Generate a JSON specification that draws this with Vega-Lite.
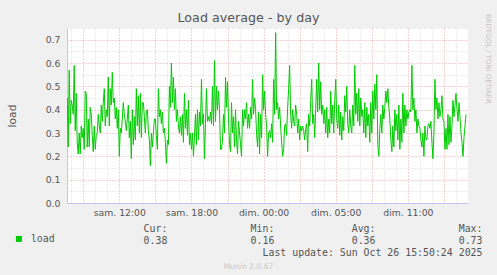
{
"$schema": "https://vega.github.io/schema/vega-lite/v6.json",
"width": 401, "height": 175,
"autosize": "none",
"padding": {"left": 67, "top": 28, "right": 29, "bottom": 72},
"background": "#f0f0f0",
"view": {"fill": "#ffffff", "stroke": null},
"title": {"text": "Load average - by day", "font": "DejaVu Sans", "fontSize": 12.7, "fontWeight": "normal", "color": "#555555", "anchor": "middle", "frame": "bounds", "baseline": "alphabetic", "offset": -21},
"data": {"values": [
{"t":455,"load":0.30},{"t":460,"load":0.45},{"t":465,"load":0.24},{"t":470,"load":0.57},{"t":475,"load":0.34},{"t":480,"load":0.44},{"t":485,"load":0.42},{"t":490,"load":0.38},{"t":495,"load":0.59},{"t":500,"load":0.31},
{"t":505,"load":0.47},{"t":510,"load":0.26},{"t":515,"load":0.21},{"t":520,"load":0.30},{"t":525,"load":0.21},{"t":530,"load":0.33},{"t":535,"load":0.28},{"t":540,"load":0.32},{"t":545,"load":0.23},{"t":550,"load":0.48},
{"t":555,"load":0.47},{"t":560,"load":0.24},{"t":565,"load":0.36},{"t":570,"load":0.24},{"t":575,"load":0.41},{"t":580,"load":0.38},{"t":585,"load":0.29},{"t":590,"load":0.22},{"t":595,"load":0.33},{"t":600,"load":0.23},
{"t":605,"load":0.29},{"t":610,"load":0.30},{"t":615,"load":0.38},{"t":620,"load":0.33},{"t":625,"load":0.30},{"t":630,"load":0.42},{"t":635,"load":0.35},{"t":640,"load":0.43},{"t":645,"load":0.49},{"t":650,"load":0.33},
{"t":655,"load":0.40},{"t":660,"load":0.37},{"t":665,"load":0.54},{"t":670,"load":0.33},{"t":675,"load":0.49},{"t":680,"load":0.42},{"t":685,"load":0.56},{"t":690,"load":0.43},{"t":695,"load":0.45},{"t":700,"load":0.36},
{"t":705,"load":0.41},{"t":710,"load":0.32},{"t":715,"load":0.40},{"t":720,"load":0.20},{"t":725,"load":0.32},{"t":730,"load":0.30},{"t":735,"load":0.36},{"t":740,"load":0.43},{"t":745,"load":0.38},{"t":750,"load":0.35},
{"t":755,"load":0.31},{"t":760,"load":0.36},{"t":765,"load":0.42},{"t":770,"load":0.28},{"t":775,"load":0.35},{"t":780,"load":0.19},{"t":785,"load":0.40},{"t":790,"load":0.25},{"t":795,"load":0.37},{"t":800,"load":0.27},
{"t":805,"load":0.49},{"t":810,"load":0.33},{"t":815,"load":0.46},{"t":820,"load":0.30},{"t":825,"load":0.47},{"t":830,"load":0.28},{"t":835,"load":0.43},{"t":840,"load":0.43},{"t":845,"load":0.37},{"t":850,"load":0.30},
{"t":855,"load":0.39},{"t":860,"load":0.40},{"t":865,"load":0.31},{"t":870,"load":0.27},{"t":875,"load":0.16},{"t":880,"load":0.30},{"t":885,"load":0.24},{"t":890,"load":0.30},{"t":895,"load":0.36},{"t":900,"load":0.36},
{"t":905,"load":0.29},{"t":910,"load":0.23},{"t":915,"load":0.49},{"t":920,"load":0.37},{"t":925,"load":0.40},{"t":930,"load":0.34},{"t":935,"load":0.39},{"t":940,"load":0.30},{"t":945,"load":0.32},{"t":950,"load":0.26},
{"t":955,"load":0.17},{"t":960,"load":0.27},{"t":965,"load":0.25},{"t":970,"load":0.50},{"t":975,"load":0.41},{"t":980,"load":0.60},{"t":985,"load":0.43},{"t":990,"load":0.54},{"t":995,"load":0.40},{"t":1000,"load":0.49},
{"t":1005,"load":0.35},{"t":1010,"load":0.40},{"t":1015,"load":0.33},{"t":1020,"load":0.30},{"t":1025,"load":0.37},{"t":1030,"load":0.29},{"t":1035,"load":0.38},{"t":1040,"load":0.26},{"t":1045,"load":0.47},{"t":1050,"load":0.32},
{"t":1055,"load":0.40},{"t":1060,"load":0.29},{"t":1065,"load":0.44},{"t":1070,"load":0.25},{"t":1075,"load":0.30},{"t":1080,"load":0.23},{"t":1085,"load":0.30},{"t":1090,"load":0.20},{"t":1095,"load":0.28},{"t":1100,"load":0.38},
{"t":1105,"load":0.25},{"t":1110,"load":0.40},{"t":1115,"load":0.27},{"t":1120,"load":0.39},{"t":1125,"load":0.33},{"t":1130,"load":0.53},{"t":1135,"load":0.34},{"t":1140,"load":0.38},{"t":1145,"load":0.19},{"t":1150,"load":0.34},
{"t":1155,"load":0.49},{"t":1160,"load":0.35},{"t":1165,"load":0.37},{"t":1170,"load":0.35},{"t":1175,"load":0.39},{"t":1180,"load":0.34},{"t":1185,"load":0.50},{"t":1190,"load":0.33},{"t":1195,"load":0.61},{"t":1200,"load":0.35},
{"t":1205,"load":0.50},{"t":1210,"load":0.40},{"t":1215,"load":0.48},{"t":1220,"load":0.40},{"t":1225,"load":0.23},{"t":1230,"load":0.23},{"t":1235,"load":0.27},{"t":1240,"load":0.38},{"t":1245,"load":0.30},{"t":1250,"load":0.54},
{"t":1255,"load":0.41},{"t":1260,"load":0.52},{"t":1265,"load":0.36},{"t":1270,"load":0.25},{"t":1275,"load":0.22},{"t":1280,"load":0.43},{"t":1285,"load":0.30},{"t":1290,"load":0.37},{"t":1295,"load":0.24},{"t":1300,"load":0.40},
{"t":1305,"load":0.27},{"t":1310,"load":0.21},{"t":1315,"load":0.35},
{"t":1320,"load":0.30},{"t":1325,"load":0.25},{"t":1330,"load":0.20},{"t":1335,"load":0.40},{"t":1340,"load":0.33},{"t":1345,"load":0.40},{"t":1350,"load":0.36},{"t":1355,"load":0.43},{"t":1360,"load":0.32},{"t":1365,"load":0.38},
{"t":1370,"load":0.32},{"t":1375,"load":0.41},{"t":1380,"load":0.36},{"t":1385,"load":0.53},{"t":1390,"load":0.38},{"t":1395,"load":0.45},{"t":1400,"load":0.40},{"t":1405,"load":0.30},{"t":1410,"load":0.24},{"t":1415,"load":0.39},
{"t":1420,"load":0.21},{"t":1425,"load":0.38},{"t":1430,"load":0.28},{"t":1435,"load":0.55},{"t":1440,"load":0.40},{"t":1445,"load":0.48},{"t":1450,"load":0.38},{"t":1455,"load":0.33},{"t":1460,"load":0.20},{"t":1465,"load":0.30},
{"t":1470,"load":0.31},{"t":1475,"load":0.28},{"t":1480,"load":0.34},{"t":1485,"load":0.26},{"t":1490,"load":0.53},{"t":1495,"load":0.38},{"t":1500,"load":0.73},{"t":1505,"load":0.40},{"t":1510,"load":0.43},{"t":1515,"load":0.36},
{"t":1520,"load":0.41},{"t":1525,"load":0.33},{"t":1530,"load":0.26},{"t":1535,"load":0.20},{"t":1540,"load":0.23},{"t":1545,"load":0.33},{"t":1550,"load":0.34},{"t":1555,"load":0.29},{"t":1560,"load":0.41},{"t":1565,"load":0.49},
{"t":1570,"load":0.59},{"t":1575,"load":0.38},{"t":1580,"load":0.32},{"t":1585,"load":0.40},{"t":1590,"load":0.35},{"t":1595,"load":0.33},{"t":1600,"load":0.42},{"t":1605,"load":0.38},{"t":1610,"load":0.30},{"t":1615,"load":0.36},
{"t":1620,"load":0.27},{"t":1625,"load":0.33},{"t":1630,"load":0.31},{"t":1635,"load":0.33},{"t":1640,"load":0.31},{"t":1645,"load":0.27},{"t":1650,"load":0.32},{"t":1655,"load":0.34},{"t":1660,"load":0.22},{"t":1665,"load":0.38},
{"t":1670,"load":0.33},{"t":1675,"load":0.44},{"t":1680,"load":0.53},{"t":1685,"load":0.34},{"t":1690,"load":0.38},{"t":1695,"load":0.28},{"t":1700,"load":0.40},{"t":1705,"load":0.53},{"t":1710,"load":0.39},{"t":1715,"load":0.60},
{"t":1720,"load":0.40},{"t":1725,"load":0.52},{"t":1730,"load":0.38},{"t":1735,"load":0.42},{"t":1740,"load":0.34},{"t":1745,"load":0.40},{"t":1750,"load":0.30},{"t":1755,"load":0.41},{"t":1760,"load":0.28},{"t":1765,"load":0.36},
{"t":1770,"load":0.30},{"t":1775,"load":0.48},{"t":1780,"load":0.34},{"t":1785,"load":0.42},{"t":1790,"load":0.30},{"t":1795,"load":0.44},{"t":1800,"load":0.53},{"t":1805,"load":0.36},{"t":1810,"load":0.32},{"t":1815,"load":0.42},
{"t":1820,"load":0.29},{"t":1825,"load":0.39},{"t":1830,"load":0.27},{"t":1835,"load":0.37},{"t":1840,"load":0.31},{"t":1845,"load":0.46},{"t":1850,"load":0.39},{"t":1855,"load":0.50},{"t":1860,"load":0.34},{"t":1865,"load":0.30},
{"t":1870,"load":0.40},{"t":1875,"load":0.33},{"t":1880,"load":0.30},{"t":1885,"load":0.42},{"t":1890,"load":0.33},{"t":1895,"load":0.59},{"t":1900,"load":0.38},{"t":1905,"load":0.47},{"t":1910,"load":0.35},{"t":1915,"load":0.49},
{"t":1920,"load":0.33},{"t":1925,"load":0.45},{"t":1930,"load":0.37},{"t":1935,"load":0.40},{"t":1940,"load":0.30},{"t":1945,"load":0.43},{"t":1950,"load":0.28},{"t":1955,"load":0.41},{"t":1960,"load":0.33},{"t":1965,"load":0.38},
{"t":1970,"load":0.26},{"t":1975,"load":0.43},{"t":1980,"load":0.30},{"t":1985,"load":0.48},{"t":1990,"load":0.36},{"t":1995,"load":0.51},{"t":2000,"load":0.40},{"t":2005,"load":0.55},{"t":2010,"load":0.25},{"t":2015,"load":0.20},
{"t":2020,"load":0.32},{"t":2025,"load":0.38},{"t":2030,"load":0.30},{"t":2035,"load":0.42},{"t":2040,"load":0.36},{"t":2045,"load":0.41},{"t":2050,"load":0.48},{"t":2055,"load":0.43},{"t":2060,"load":0.49},{"t":2065,"load":0.41},
{"t":2070,"load":0.36},{"t":2075,"load":0.27},{"t":2080,"load":0.22},{"t":2085,"load":0.33},{"t":2090,"load":0.24},{"t":2095,"load":0.40},{"t":2100,"load":0.31},{"t":2105,"load":0.38},{"t":2110,"load":0.27},{"t":2115,"load":0.42},
{"t":2120,"load":0.23},{"t":2125,"load":0.36},{"t":2130,"load":0.26},{"t":2135,"load":0.47},{"t":2140,"load":0.30},{"t":2145,"load":0.42},{"t":2150,"load":0.33},{"t":2155,"load":0.40},{"t":2160,"load":0.36},{"t":2165,"load":0.39},
{"t":2170,"load":0.40},{"t":2175,"load":0.39},{"t":2180,"load":0.59},{"t":2185,"load":0.40},{"t":2190,"load":0.45},{"t":2195,"load":0.35},{"t":2200,"load":0.40},{"t":2205,"load":0.30},{"t":2210,"load":0.36},{"t":2215,"load":0.33},
{"t":2220,"load":0.32},{"t":2225,"load":0.27},{"t":2230,"load":0.24},{"t":2235,"load":0.30},{"t":2240,"load":0.20},{"t":2245,"load":0.33},{"t":2250,"load":0.28},{"t":2255,"load":0.27},{"t":2260,"load":0.33},{"t":2265,"load":0.34},
{"t":2270,"load":0.32},{"t":2275,"load":0.35},{"t":2280,"load":0.26},{"t":2285,"load":0.19},{"t":2290,"load":0.30},{"t":2295,"load":0.53},{"t":2300,"load":0.40},{"t":2305,"load":0.45},{"t":2310,"load":0.36},{"t":2315,"load":0.43},
{"t":2320,"load":0.37},{"t":2325,"load":0.40},{"t":2330,"load":0.46},{"t":2335,"load":0.36},{"t":2340,"load":0.35},{"t":2345,"load":0.23},{"t":2350,"load":0.32},{"t":2355,"load":0.23},{"t":2360,"load":0.38},{"t":2365,"load":0.25},
{"t":2370,"load":0.37},{"t":2375,"load":0.26},{"t":2380,"load":0.33},{"t":2385,"load":0.44},{"t":2390,"load":0.37},{"t":2395,"load":0.42},{"t":2400,"load":0.47},{"t":2405,"load":0.40},{"t":2410,"load":0.35},{"t":2415,"load":0.43},
{"t":2420,"load":0.37},{"t":2425,"load":0.30},{"t":2430,"load":0.26},{"t":2435,"load":0.20},{"t":2440,"load":0.28},{"t":2445,"load":0.33},{"t":2450,"load":0.38}
]},
"layer": [
{
"mark": {"type": "line", "strokeWidth": 1, "clip": true},
"encoding": {
"x": {"field": "t", "type": "quantitative",
 "scale": {"domain": [459, 2460], "nice": false, "zero": false},
 "axis": {"orient": "bottom",
  "values": [480,540,600,660,720,780,840,900,960,1020,1080,1140,1200,1260,1320,1380,1440,1500,1560,1620,1680,1740,1800,1860,1920,1980,2040,2100,2160,2220,2280,2340,2400],
  "grid": true,
  "gridColor": {"condition": {"test": "datum.value % 180 === 0", "value": "#e8a4a4"}, "value": "#d8d8d8"},
  "gridDash": [1, 2], "gridWidth": 1,
  "ticks": false, "tickSize": 0,
  "domainColor": "#c4c4f0", "domainWidth": 1,
  "labelExpr": "datum.value == 720 ? 'sam. 12:00' : datum.value == 1080 ? 'sam. 18:00' : datum.value == 1440 ? 'dim. 00:00' : datum.value == 1800 ? 'dim. 05:00' : datum.value == 2160 ? 'dim. 11:00' : ''",
  "labelOverlap": false, "labelFlush": false,
  "labelFont": "DejaVu Sans", "labelFontSize": 9.3, "labelColor": "#555555",
  "labelPadding": 12, "labelBaseline": "alphabetic",
  "title": ["Cur:\u00a0\u00a0\u00a0\u00a0\u00a0\u00a0\u00a0\u00a0\u00a0\u00a0\u00a0\u00a0\u00a0\u00a0Min:\u00a0\u00a0\u00a0\u00a0\u00a0\u00a0\u00a0\u00a0\u00a0\u00a0\u00a0\u00a0\u00a0Avg:\u00a0\u00a0\u00a0\u00a0\u00a0\u00a0\u00a0\u00a0\u00a0\u00a0\u00a0\u00a0\u00a0\u00a0Max:\u00a0\u00a0",
            "0.38\u00a0\u00a0\u00a0\u00a0\u00a0\u00a0\u00a0\u00a0\u00a0\u00a0\u00a0\u00a0\u00a0\u00a00.16\u00a0\u00a0\u00a0\u00a0\u00a0\u00a0\u00a0\u00a0\u00a0\u00a0\u00a0\u00a0\u00a00.36\u00a0\u00a0\u00a0\u00a0\u00a0\u00a0\u00a0\u00a0\u00a0\u00a0\u00a0\u00a0\u00a0\u00a00.73",
            "Last update: Sun Oct 26 15:50:24 2025"],
  "titleFont": "DejaVu Sans Mono", "titleFontSize": 9.9, "titleFontWeight": "normal", "titleColor": "#555555",
  "titleAlign": "right", "titleX": 415, "titleY": 28, "titleBaseline": "alphabetic", "titleLineHeight": 12}},
"y": {"field": "load", "type": "quantitative",
 "scale": {"domain": [0, 0.75], "nice": false, "zero": true},
 "axis": {"orient": "left",
  "values": [0,0.05,0.1,0.15,0.2,0.25,0.3,0.35,0.4,0.45,0.5,0.55,0.6,0.65,0.7,0.75],
  "grid": true,
  "gridColor": {"condition": {"test": "round(datum.value*20) % 2 == 0", "value": "#e8a4a4"}, "value": "#d8d8d8"},
  "gridDash": [1, 2], "gridWidth": 1,
  "ticks": false, "tickSize": 0,
  "domainColor": "#c4c4f0", "domainWidth": 1,
  "labelExpr": "round(datum.value*20) % 2 == 0 ? format(datum.value, '.1f') : ''",
  "labelOverlap": false, "labelFlush": false,
  "labelFont": "DejaVu Sans", "labelFontSize": 9.3, "labelColor": "#555555", "labelPadding": 7,
  "title": "load", "titleFont": "DejaVu Sans", "titleFontSize": 10.7, "titleFontWeight": "normal", "titleColor": "#555555",
  "titleAngle": -90, "titleX": -52, "titleY": 87.5, "titleAlign": "center", "titleBaseline": "alphabetic"}},
"color": {"datum": "load", "type": "nominal",
 "scale": {"range": ["#00cc00"]},
 "legend": {"orient": "none", "legendX": -53, "legendY": 206, "title": null, "padding": 0,
  "symbolType": "square", "symbolSize": 36, "symbolFillColor": "#00cc00", "symbolStrokeColor": "#00cc00", "symbolStrokeWidth": 0,
  "labelFont": "DejaVu Sans Mono", "labelFontSize": 9.9, "labelColor": "#555555", "labelOffset": 7,
  "encode": {"symbols": {"update": {"fill": {"value": "#00cc00"}, "stroke": {"value": "#00cc00"}, "opacity": {"value": 1}}}}}}
}
},
{
"mark": {"type": "line", "strokeOpacity": 0, "color": "#00cc00"},
"encoding": {
"x": {"field": "t", "type": "quantitative",
 "scale": {"domain": [459, 2460], "nice": false, "zero": false},
 "axis": {"orient": "top", "grid": false, "ticks": false, "labels": false, "domain": false,
  "title": "Munin 2.0.67", "titleFont": "DejaVu Sans", "titleFontSize": 7.6, "titleFontWeight": "normal", "titleColor": "#c8c8c8",
  "titleX": 181, "titleY": 240, "titleAlign": "center", "titleBaseline": "alphabetic"}},
"y": {"field": "load", "type": "quantitative",
 "scale": {"domain": [0, 0.75], "nice": false, "zero": true},
 "axis": {"orient": "right", "grid": false, "ticks": false, "labels": false, "domain": false,
  "title": "RRDTOOL / TOBI OETIKER", "titleFont": "DejaVu Sans", "titleFontSize": 7.0, "titleFontWeight": "normal", "titleColor": "#c4c4c4", "titleLimit": 300,
  "titleAngle": 90, "titleX": 17, "titleY": 30.3, "titleAlign": "center", "titleBaseline": "alphabetic"}}
}
}
],
"resolve": {"axis": {"x": "independent", "y": "independent"}}
}
